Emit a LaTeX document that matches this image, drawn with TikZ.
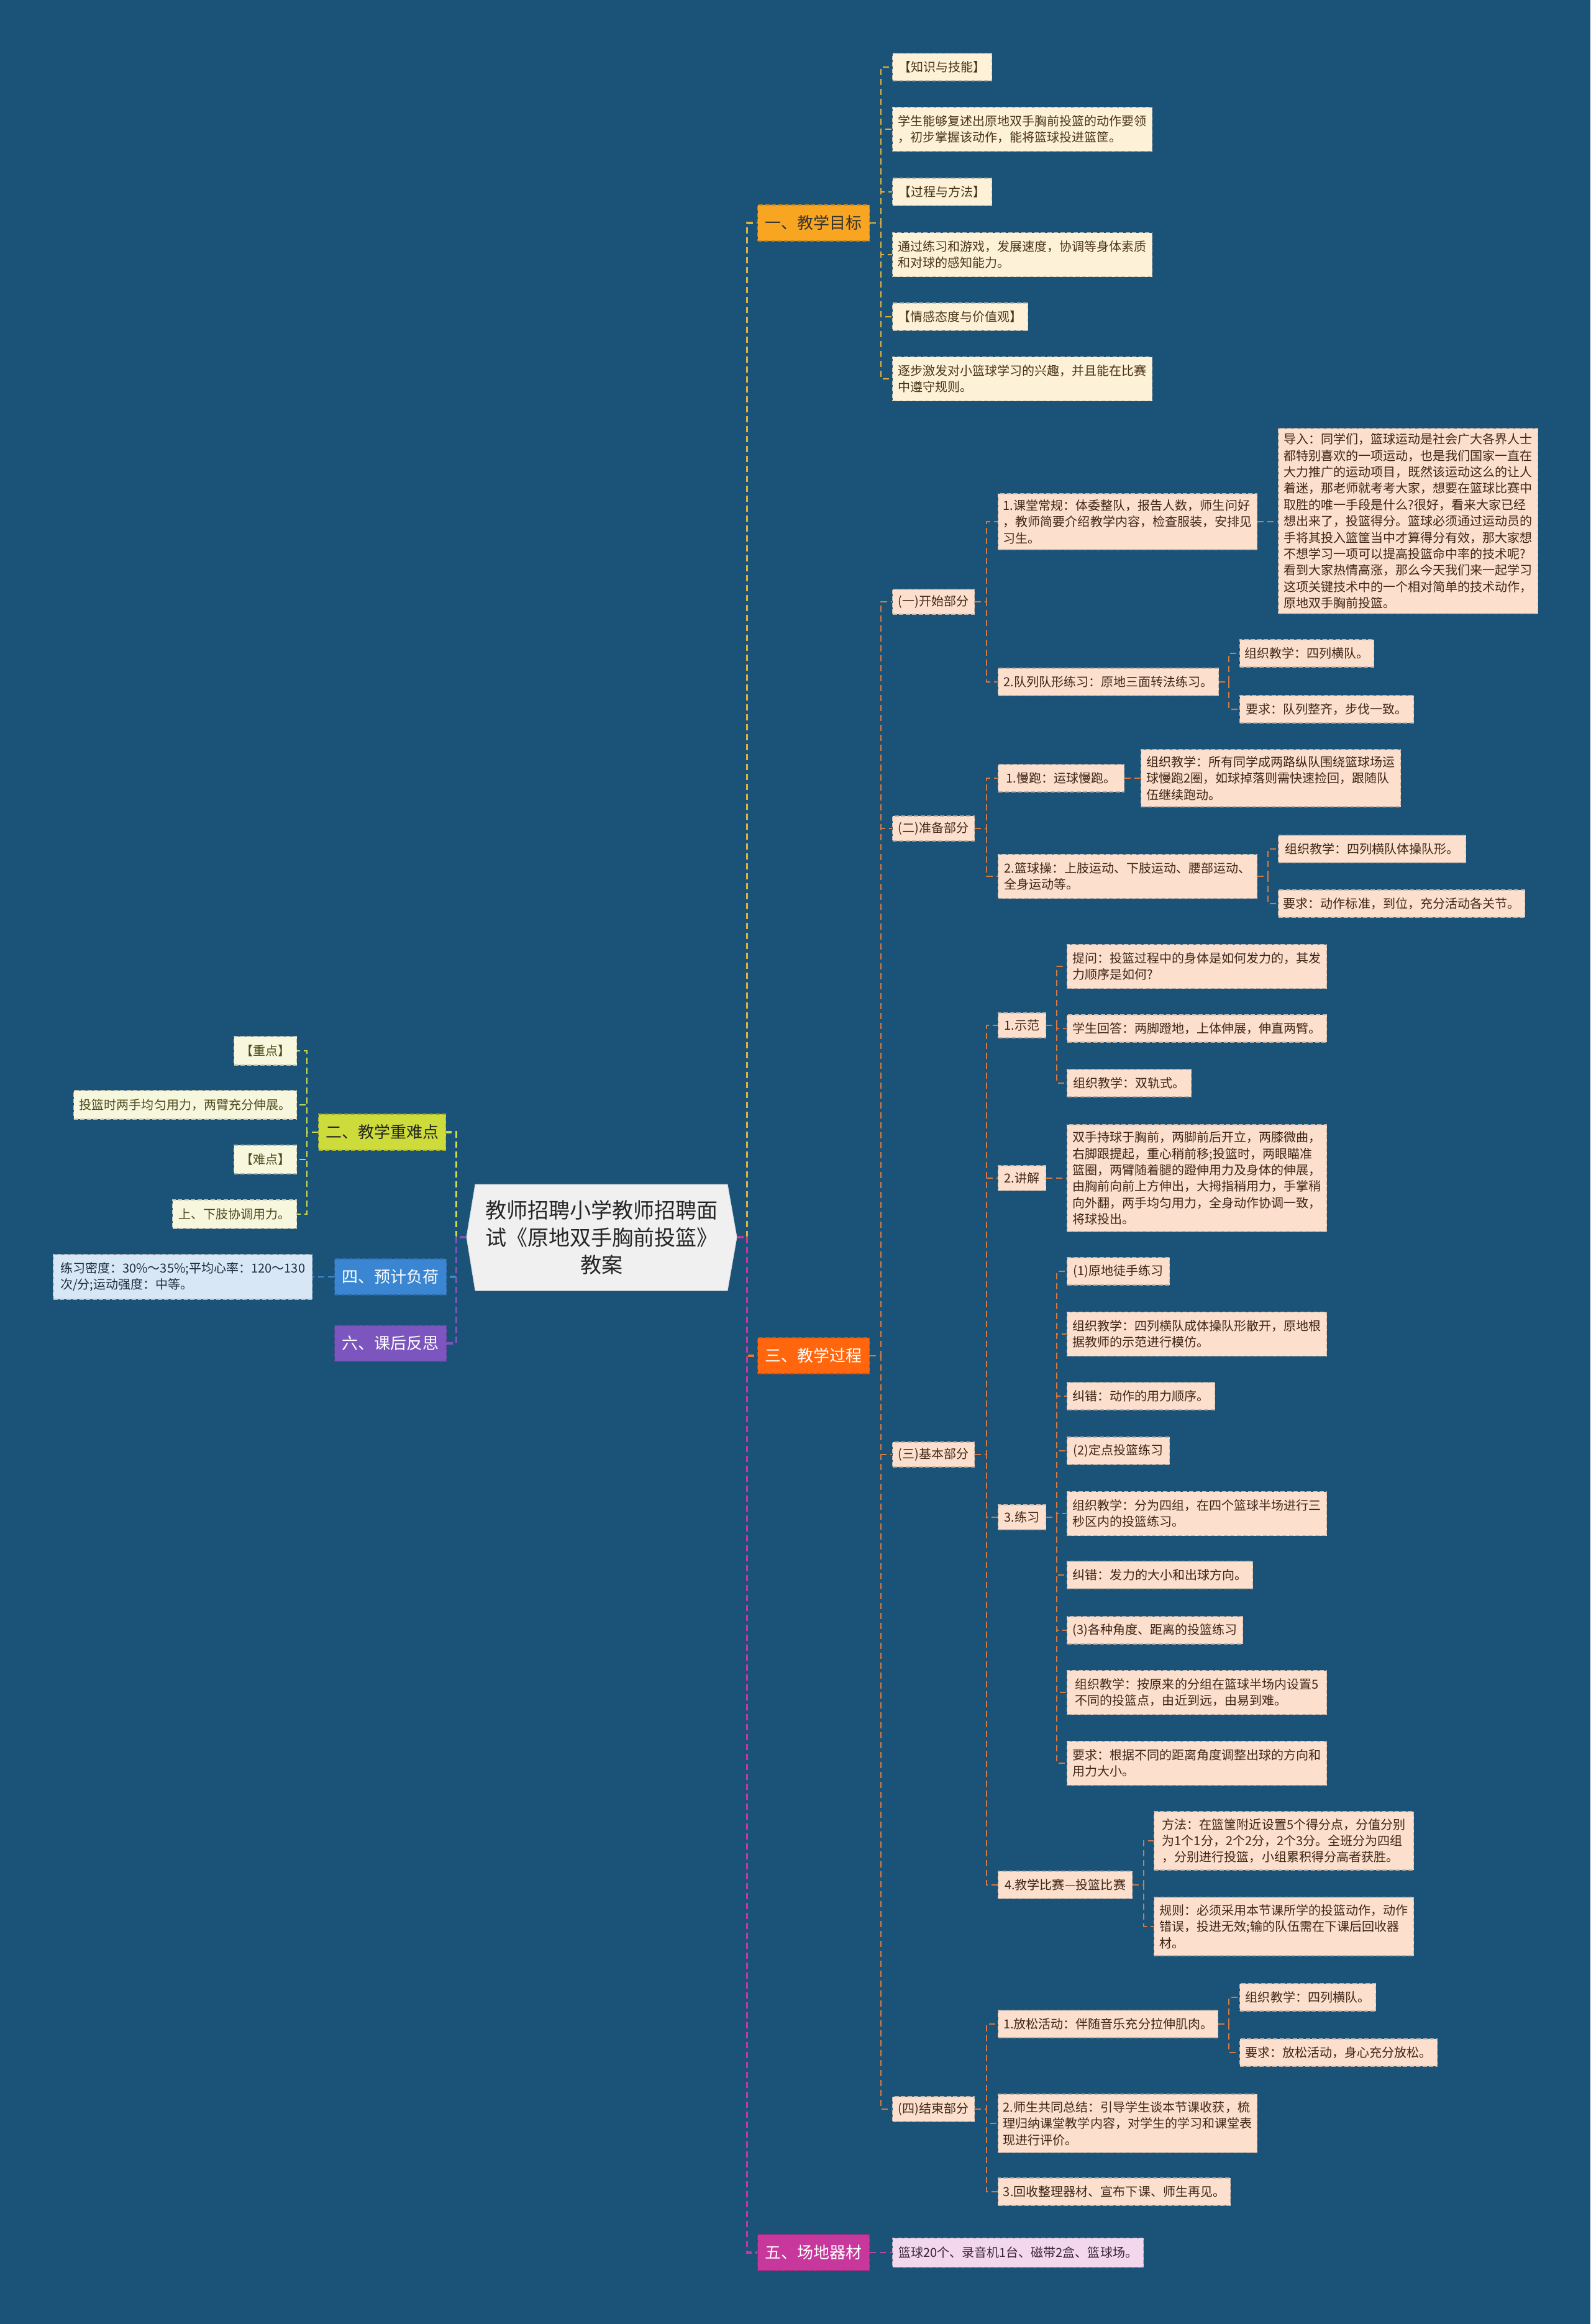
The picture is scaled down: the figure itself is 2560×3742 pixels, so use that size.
\documentclass[tikz,border=0pt]{standalone}
\usepackage{fontspec}
\setmainfont{Noto Sans CJK SC}
\definecolor{bg}{HTML}{1B5277}
\definecolor{rootfill}{HTML}{F0F0F0}
\definecolor{fillA}{HTML}{F8A522}
\definecolor{lineA}{HTML}{E2B03E}
\definecolor{leafA}{HTML}{FDF2D8}
\definecolor{textA}{HTML}{4A3418}
\definecolor{fillC}{HTML}{FF660D}
\definecolor{lineC}{HTML}{D47A42}
\definecolor{rootlineC}{HTML}{E8752E}
\definecolor{leafC}{HTML}{FCE0CD}
\definecolor{textC}{HTML}{3E2618}
\definecolor{fillE}{HTML}{C8379B}
\definecolor{lineE}{HTML}{B9489F}
\definecolor{leafE}{HTML}{F3D7EC}
\definecolor{textE}{HTML}{3A2236}
\definecolor{fillB}{HTML}{CDDB3B}
\definecolor{lineB}{HTML}{CAD94A}
\definecolor{leafB}{HTML}{F7F7DD}
\definecolor{textB}{HTML}{4E4C1E}
\definecolor{fillD}{HTML}{3A86D2}
\definecolor{lineD}{HTML}{3E88D0}
\definecolor{leafD}{HTML}{D8E7F6}
\definecolor{textD}{HTML}{1F2B3C}
\definecolor{fillF}{HTML}{7C56BE}
\newcommand\leaffont{\fontsize{5.7pt}{7.5pt}\selectfont}
\newcommand\brfont{\fontsize{7.4pt}{9pt}\selectfont}
\newcommand\rootfont{\fontsize{9.7pt}{12.5pt}\selectfont}
\begin{document}
\begin{tikzpicture}[x=0.1mm,y=-0.1mm,
  box/.style={rectangle, anchor=west, inner sep=0pt, align=left, line width=0.12mm, dash pattern=on 0.7mm off 0.35mm},
  mainbox/.style={box, align=center, font=\brfont, minimum width=18mm, minimum height=5.8mm},
  leaf/.style={box, font=\leaffont},
  leafAst/.style={leaf, fill=leafA, draw=leafA!55!gray, text=textA},
  leafCst/.style={leaf, fill=leafC, draw=leafC!55!gray, text=textC},
  leafEst/.style={leaf, fill=leafE, draw=leafE!55!gray, text=textE},
  leafBst/.style={leaf, fill=leafB, draw=leafB!55!gray, text=textB},
  leafDst/.style={leaf, fill=leafD, draw=leafD!55!gray, text=textD},
  one/.style={minimum height=4.4mm},
  two/.style={minimum height=7.1mm},
  three/.style={minimum height=9.4mm},
  conn/.style={dash pattern=on 1mm off 0.6mm, line width=0.25mm},
  rootconn/.style={dash pattern=on 1mm off 0.6mm, line width=0.35mm},
  rootnode/.style={rectangle, inner sep=0pt, align=center, font=\rootfont, text=black!85, minimum width=43.5mm, minimum height=17.1mm}
]
\fill[bg] (0,0) rectangle (2560,3742);
\useasboundingbox (0,0) rectangle (2560,3742);

% root
\filldraw[fill=rootfill, draw=rootfill!90!black, line width=0.1mm] (765,1907) -- (1171,1907) -- (1186,1992) -- (1171,2078) -- (765,2078) -- (751,1992) -- cycle;
\node[rootnode] (root) at (968.5,1992) {教师招聘小学教师招聘面\\试《原地双手胸前投篮》\\教案};

% main branches
\node[mainbox, fill=fillA, draw=fillA!80!black, text=black!80] (b1) at (1219,359) {一、教学目标};
\node[mainbox, fill=fillC, draw=fillC!80!black, text=white] (b3) at (1219,2183) {三、教学过程};
\node[mainbox, fill=fillE, draw=fillE!80!black, text=white] (b5) at (1219,3627) {五、场地器材};
\node[mainbox, fill=fillB, draw=fillB!80!black, text=black!85, minimum width=20.5mm] (b2) at (512,1823) {二、教学重难点};
\node[mainbox, fill=fillD, draw=fillD!80!black, text=white] (b4) at (538,2056) {四、预计负荷};
\node[mainbox, fill=fillF, draw=fillF!80!black, text=white] (b6) at (538,2163) {六、课后反思};

% 一 children
\node[leafAst, one, minimum width=16mm] (a1) at (1436,108) {【知识与技能】};
\node[leafAst, two, minimum width=41.8mm] (a2) at (1436,208) {学生能够复述出原地双手胸前投篮的动作要领\\，初步掌握该动作，能将篮球投进篮筐。};
\node[leafAst, one, minimum width=16mm] (a3) at (1436,309) {【过程与方法】};
\node[leafAst, two, minimum width=41.8mm] (a4) at (1436,410) {通过练习和游戏，发展速度，协调等身体素质\\和对球的感知能力。};
\node[leafAst, one, minimum width=21.8mm] (a5) at (1436,510) {【情感态度与价值观】};
\node[leafAst, two, minimum width=41.8mm] (a6) at (1436,610) {逐步激发对小篮球学习的兴趣，并且能在比赛\\中遵守规则。};

% 三 children
\node[leafCst, minimum height=4mm, minimum width=13.2mm] (c1) at (1436,969) {(一)开始部分};
\node[leafCst, minimum height=4mm, minimum width=13.2mm] (c2) at (1436,1334) {(二)准备部分};
\node[leafCst, minimum height=4mm, minimum width=13.2mm] (c3) at (1436,2342) {(三)基本部分};
\node[leafCst, minimum height=4mm, minimum width=13.2mm] (c4) at (1436,3396) {(四)结束部分};

% (一) 开始部分
\node[leafCst, minimum height=9mm, minimum width=41.7mm] (d1) at (1606,840) {1.课堂常规：体委整队，报告人数，师生问好\\，教师简要介绍教学内容，检查服装，安排见\\习生。};
\node[leafCst, minimum height=29.8mm, minimum width=41.8mm] (e1) at (2057,839) {导入：同学们，篮球运动是社会广大各界人士\\都特别喜欢的一项运动，也是我们国家一直在\\大力推广的运动项目，既然该运动这么的让人\\着迷，那老师就考考大家，想要在篮球比赛中\\取胜的唯一手段是什么?很好，看来大家已经\\想出来了，投篮得分。篮球必须通过运动员的\\手将其投入篮筐当中才算得分有效，那大家想\\不想学习一项可以提高投篮命中率的技术呢?\\看到大家热情高涨，那么今天我们来一起学习\\这项关键技术中的一个相对简单的技术动作，\\原地双手胸前投篮。};
\node[leafCst, one, minimum width=35.5mm] (d2) at (1606,1098) {2.队列队形练习：原地三面转法练习。};
\node[leafCst, one, minimum width=21.6mm] (e2) at (1995,1052) {组织教学：四列横队。};
\node[leafCst, one, minimum width=28mm] (e3) at (1995,1142) {要求：队列整齐，步伐一致。};

% (二) 准备部分
\node[leafCst, one, minimum width=20.3mm] (d3) at (1606,1253) {1.慢跑：运球慢跑。};
\node[leafCst, minimum height=9.2mm, minimum width=41.8mm] (e4) at (1836,1253) {组织教学：所有同学成两路纵队围绕篮球场运\\球慢跑2圈，如球掉落则需快速捡回，跟随队\\伍继续跑动。};
\node[leafCst, two, minimum width=41.7mm] (d4) at (1606,1411) {2.篮球操：上肢运动、下肢运动、腰部运动、\\全身运动等。};
\node[leafCst, one, minimum width=30.2mm] (e5) at (2057,1367) {组织教学：四列横队体操队形。};
\node[leafCst, one, minimum width=39.7mm] (e6) at (2057,1455) {要求：动作标准，到位，充分活动各关节。};

% (三) 基本部分
\node[leafCst, minimum height=4mm, minimum width=7.7mm] (d5) at (1606,1651) {1.示范};
\node[leafCst, two, minimum width=41.8mm] (f1) at (1717,1556) {提问：投篮过程中的身体是如何发力的，其发\\力顺序是如何?};
\node[leafCst, one, minimum width=41.8mm] (f2) at (1717,1656) {学生回答：两脚蹬地，上体伸展，伸直两臂。};
\node[leafCst, one, minimum width=20mm] (f3) at (1717,1744) {组织教学：双轨式。};
\node[leafCst, minimum height=4mm, minimum width=7.7mm] (d6) at (1606,1897) {2.讲解};
\node[leafCst, minimum height=17.2mm, minimum width=41.8mm] (f4) at (1717,1897) {双手持球于胸前，两脚前后开立，两膝微曲，\\右脚跟提起，重心稍前移;投篮时，两眼瞄准\\篮圈，两臂随着腿的蹬伸用力及身体的伸展，\\由胸前向前上方伸出，大拇指稍用力，手掌稍\\向外翻，两手均匀用力，全身动作协调一致，\\将球投出。};
\node[leafCst, minimum height=4mm, minimum width=7.7mm] (d7) at (1606,2443) {3.练习};
\node[leafCst, one, minimum width=16.5mm] (g1) at (1717,2047) {(1)原地徒手练习};
\node[leafCst, two, minimum width=41.8mm] (g2) at (1717,2148) {组织教学：四列横队成体操队形散开，原地根\\据教师的示范进行模仿。};
\node[leafCst, one, minimum width=23.8mm] (g3) at (1717,2248) {纠错：动作的用力顺序。};
\node[leafCst, one, minimum width=16.5mm] (g4) at (1717,2336) {(2)定点投篮练习};
\node[leafCst, two, minimum width=41.8mm] (g5) at (1717,2437) {组织教学：分为四组，在四个篮球半场进行三\\秒区内的投篮练习。};
\node[leafCst, one, minimum width=29.9mm] (g6) at (1717,2536) {纠错：发力的大小和出球方向。};
\node[leafCst, one, minimum width=28.3mm] (g7) at (1717,2625) {(3)各种角度、距离的投篮练习};
\node[leafCst, two, minimum width=41.8mm] (g8) at (1717,2725) {组织教学：按原来的分组在篮球半场内设置5\\不同的投篮点，由近到远，由易到难。};
\node[leafCst, two, minimum width=41.8mm] (g9) at (1717,2839) {要求：根据不同的距离角度调整出球的方向和\\用力大小。};
\node[leafCst, one, minimum width=21.6mm] (d8) at (1606,3035) {4.教学比赛—投篮比赛};
\node[leafCst, three, minimum width=41.8mm] (h1) at (1857,2964) {方法：在篮筐附近设置5个得分点，分值分别\\为1个1分，2个2分，2个3分。全班分为四组\\，分别进行投篮，小组累积得分高者获胜。};
\node[leafCst, three, minimum width=41.8mm] (h2) at (1857,3102) {规则：必须采用本节课所学的投篮动作，动作\\错误，投进无效;输的队伍需在下课后回收器\\材。};

% (四) 结束部分
\node[leafCst, one, minimum width=35.4mm] (d9) at (1606,3259) {1.放松活动：伴随音乐充分拉伸肌肉。};
\node[leafCst, one, minimum width=21.9mm] (i1) at (1995,3216) {组织教学：四列横队。};
\node[leafCst, one, minimum width=31.8mm] (i2) at (1995,3305) {要求：放松活动，身心充分放松。};
\node[leafCst, three, minimum width=41.7mm] (d10) at (1606,3419) {2.师生共同总结：引导学生谈本节课收获，梳\\理归纳课堂教学内容，对学生的学习和课堂表\\现进行评价。};
\node[leafCst, one, minimum width=37.4mm] (d11) at (1606,3529) {3.回收整理器材、宣布下课、师生再见。};

% 五 child
\node[leafEst, minimum height=4.7mm, minimum width=40.4mm] (j1) at (1436,3627) {篮球20个、录音机1台、磁带2盒、篮球场。};

% 二 children
\node[leafBst, minimum height=4.6mm, minimum width=10.1mm] (k1) at (376,1692) {【重点】};
\node[leafBst, minimum height=4.6mm, minimum width=35.9mm] (k2) at (118,1779) {投篮时两手均匀用力，两臂充分伸展。};
\node[leafBst, minimum height=4.6mm, minimum width=10.1mm] (k3) at (376,1867) {【难点】};
\node[leafBst, minimum height=4.6mm, minimum width=20mm] (k4) at (277,1955) {上、下肢协调用力。};

% 四 child
\node[leafDst, minimum height=7.2mm, minimum width=41.7mm] (l1) at (85,2056) {练习密度：30\%～35\%;平均心率：120～130\\次/分;运动强度：中等。};

% ---------- connectors ----------
\draw[conn, lineA] (b1.east) -- ++(18,0) |- (a1.west);
\draw[conn, lineA] (b1.east) -- ++(18,0) |- (a2.west);
\draw[conn, lineA] (b1.east) -- ++(18,0) |- (a3.west);
\draw[conn, lineA] (b1.east) -- ++(18,0) |- (a4.west);
\draw[conn, lineA] (b1.east) -- ++(18,0) |- (a5.west);
\draw[conn, lineA] (b1.east) -- ++(18,0) |- (a6.west);

\foreach \c in {c1,c2,c3,c4} \draw[conn, lineC] (b3.east) -- ++(18,0) |- (\c.west);
\foreach \c in {d1,d2} \draw[conn, lineC] (c1.east) -- ++(19,0) |- (\c.west);
\draw[conn, lineC] (d1.east) -- (d1.east -| e1.west);
\foreach \c in {e2,e3} \draw[conn, lineC] (d2.east) -- ++(16,0) |- (\c.west);
\foreach \c in {d3,d4} \draw[conn, lineC] (c2.east) -- ++(19,0) |- (\c.west);
\draw[conn, lineC] (d3.east) -- (d3.east -| e4.west);
\foreach \c in {e5,e6} \draw[conn, lineC] (d4.east) -- ++(17,0) |- (\c.west);
\foreach \c in {d5,d6,d7,d8} \draw[conn, lineC] (c3.east) -- ++(19,0) |- (\c.west);
\foreach \c in {f1,f2,f3} \draw[conn, lineC] (d5.east) -- ++(17,0) |- (\c.west);
\draw[conn, lineC] (d6.east) -- (d6.east -| f4.west);
\foreach \c in {g1,g2,g3,g4,g5,g6,g7,g8,g9} \draw[conn, lineC] (d7.east) -- ++(17,0) |- (\c.west);
\foreach \c in {h1,h2} \draw[conn, lineC] (d8.east) -- ++(18,0) |- (\c.west);
\foreach \c in {d9,d10,d11} \draw[conn, lineC] (c4.east) -- ++(19,0) |- (\c.west);
\foreach \c in {i1,i2} \draw[conn, lineC] (d9.east) -- ++(17,0) |- (\c.west);

\draw[conn, lineE] (b5.east) -- (b5.east -| j1.west);

\foreach \c in {k1,k2,k3,k4} \draw[conn, lineB] (b2.west) -- ++(-18,0) |- (\c.east);
\draw[conn, lineD] (b4.west) -- (b4.west -| l1.east);

% root connectors
\draw[rootconn, lineA] (root.east) -- ++(16,0) |- (b1.west);
\draw[rootconn, rootlineC] (root.east) -- ++(16,0) |- (b3.west);
\draw[rootconn, fillE] (root.east) -- ++(16,0) |- (b5.west);
\draw[rootconn, lineB] (root.west) -- ++(-16,0) |- (b2.east);
\draw[rootconn, lineD] (root.west) -- ++(-16,0) |- (b4.east);
\draw[rootconn, fillF] (root.west) -- ++(-16,0) |- (b6.east);
\end{tikzpicture}
\end{document}
